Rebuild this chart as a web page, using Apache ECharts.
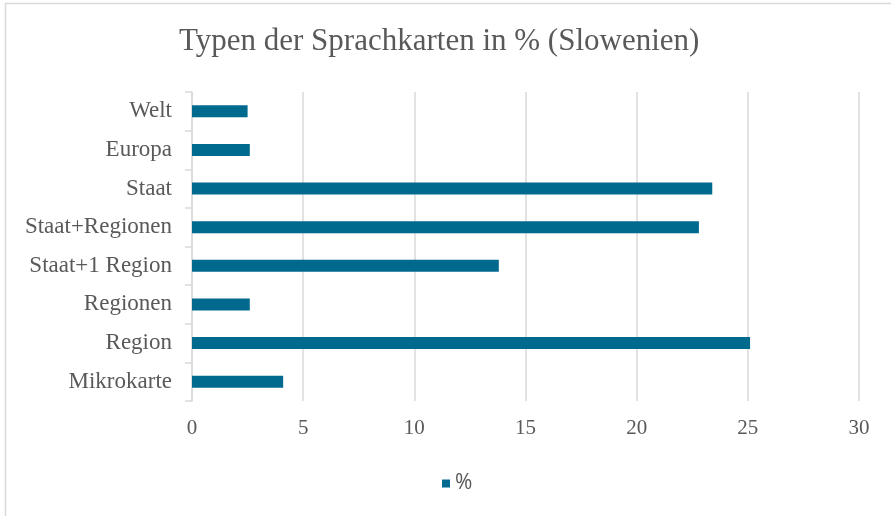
<!DOCTYPE html>
<html>
<head>
<meta charset="utf-8">
<script src="https://cdn.jsdelivr.net/npm/echarts@6/dist/echarts.min.js"></script>
<style>
  html, body { margin: 0; padding: 0; background: #fff; }
  #chart { width: 891px; height: 516px; }
</style>
</head>
<body>
<div id="chart"></div>
<script>
// Kategorien von unten nach oben (wie im Original)
var categories = ["Mikrokarte", "Region", "Regionen", "Staat+1 Region", "Staat+Regionen", "Staat", "Europa", "Welt"];
var percentValues = [4.1, 25.1, 2.6, 13.8, 22.8, 23.4, 2.6, 2.5];
var seriesName = "%";

var serif = "'Liberation Serif', 'DejaVu Serif', serif";
var grey = "#595959";
var lineGrey = "#d9d9d9";

var chart = echarts.init(document.getElementById("chart"));
chart.setOption({
  animation: false,
  title: {
    text: "Typen der Sprachkarten in % (Slowenien)",
    left: 174,
    top: 21,
    textStyle: {
      fontFamily: serif,
      fontSize: 31,
      fontWeight: "normal",
      color: grey
    }
  },
  graphic: [
    {
      type: "rect",
      shape: { x: 5.5, y: 3.5, width: 900, height: 600 },
      style: { fill: null, stroke: lineGrey, lineWidth: 1.5 },
      silent: true
    }
  ],
  legend: {
    top: 468,
    left: 437,
    itemWidth: 8,
    itemHeight: 8,
    itemGap: 8,
    icon: "rect",
    textStyle: {
      fontFamily: "'Open Sans', 'Noto Sans', sans-serif",
      fontSize: 21,
      color: grey
    },
    data: [seriesName]
  },
  grid: {
    left: 192,
    right: 32,
    top: 92,
    bottom: 115,
    containLabel: false
  },
  xAxis: {
    type: "value",
    min: 0,
    max: 30,
    interval: 5,
    axisLine: { show: false },
    axisTick: { show: false },
    axisLabel: {
      fontFamily: serif,
      fontSize: 21,
      color: grey,
      margin: 17
    },
    splitLine: { lineStyle: { color: lineGrey, width: 1.5 } }
  },
  yAxis: {
    type: "category",
    data: categories,
    axisLine: { show: true, lineStyle: { color: lineGrey, width: 1.5 } },
    axisTick: { show: true, length: 7, lineStyle: { color: lineGrey, width: 1.5 } },
    axisLabel: {
      fontFamily: serif,
      fontSize: 23,
      color: grey,
      margin: 20
    }
  },
  series: [
    {
      name: seriesName,
      type: "bar",
      data: percentValues,
      barWidth: 12,
      itemStyle: { color: "#006A8E" }
    }
  ]
});
</script>
</body>
</html>
